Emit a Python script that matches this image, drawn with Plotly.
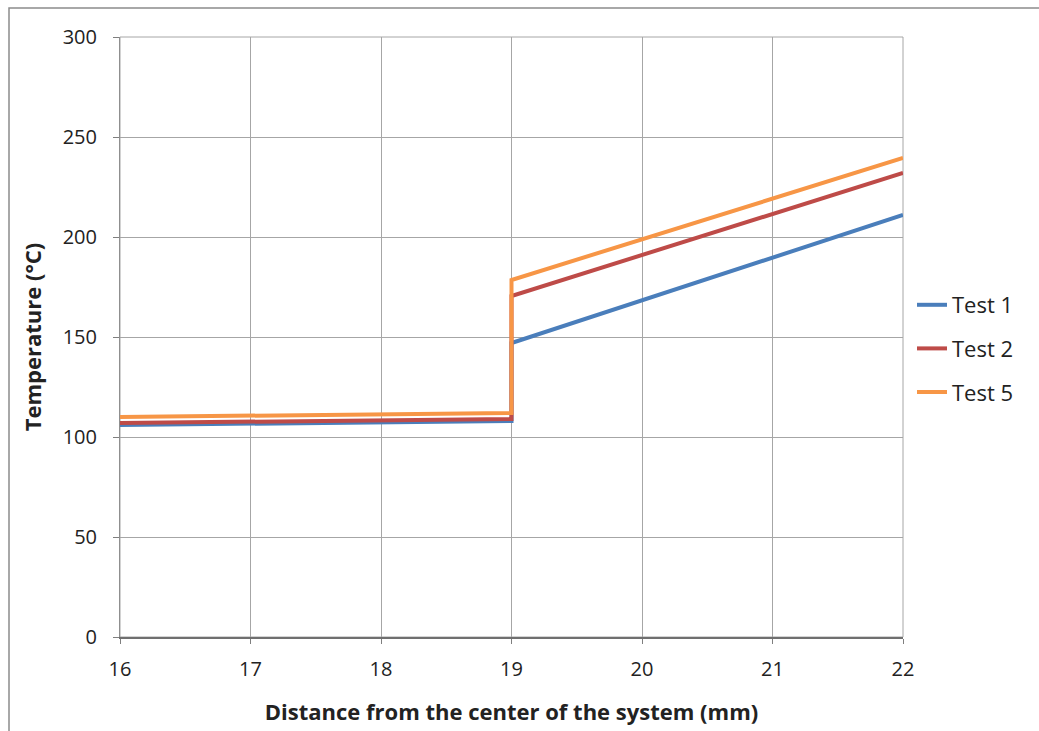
import plotly.graph_objects as go

x_vals = [16, 19, 19, 22]
test1 = [106, 108, 147, 211]
test2 = [107, 109, 170.5, 232]
test5 = [110, 112, 178.5, 239.5]

series = [("Test 1", test1, "#4a7ebb"), ("Test 2", test2, "#be4b48"), ("Test 5", test5, "#f79646")]

fig = go.Figure()
for name, ys, col in series:
    fig.add_trace(go.Scatter(x=x_vals, y=ys, mode="lines", name=name, legendgroup=name,
                             line=dict(color=col, width=4)))

W, H = 1039, 731
L, R, T, B = 120, 136, 37, 94
pw, ph = W - L - R, H - T - B

def px(xp):
    return (xp - L) / pw

def py(yp):
    return (H - B - yp) / ph

fig.update_layout(
    width=W, height=H,
    margin=dict(l=L, r=R, t=T, b=B, autoexpand=False),
    paper_bgcolor="white", plot_bgcolor="white",
    font=dict(family="Open Sans, Liberation Sans, sans-serif", size=20, color="#222"),
    showlegend=True,
    legend=dict(x=px(912), y=py(284), xanchor="left", yanchor="top",
                font=dict(size=22), traceorder="grouped", tracegroupgap=12,
                bgcolor="rgba(0,0,0,0)"),
    xaxis=dict(range=[16, 22], dtick=1, tick0=16, showgrid=True, gridcolor="#a6a6a6",
               gridwidth=1, zeroline=False, showline=True, linecolor="#6f6f6f", linewidth=1.5,
               ticks="outside", ticklen=5, tickcolor="#7f7f7f", tickfont=dict(size=20),
               ticklabelstandoff=8, automargin=False,
               title=dict(text="<b>Distance from the center of the system (mm)</b>",
                          font=dict(size=22), standoff=24)),
    yaxis=dict(range=[0, 300], dtick=50, showgrid=True, gridcolor="#a6a6a6",
               gridwidth=1, zeroline=False, showline=True, linecolor="#8f8f8f", linewidth=1,
               ticks="outside", ticklen=6, tickcolor="#7f7f7f", tickfont=dict(size=20),
               ticklabelstandoff=12, automargin=False,
               title=dict(text="<b>Temperature (°C)</b>", font=dict(size=22), standoff=14)),
    shapes=[dict(type="rect", xref="paper", yref="paper",
                 x0=px(9), x1=px(1060), y0=py(760), y1=py(8),
                 line=dict(color="#8c8c8c", width=1.5), fillcolor="rgba(0,0,0,0)", layer="below"),
            dict(type="rect", xref="paper", yref="paper", x0=0, x1=1, y0=0, y1=1,
                 line=dict(color="#a6a6a6", width=1), layer="below")],
)

fig.write_html("out.html")
